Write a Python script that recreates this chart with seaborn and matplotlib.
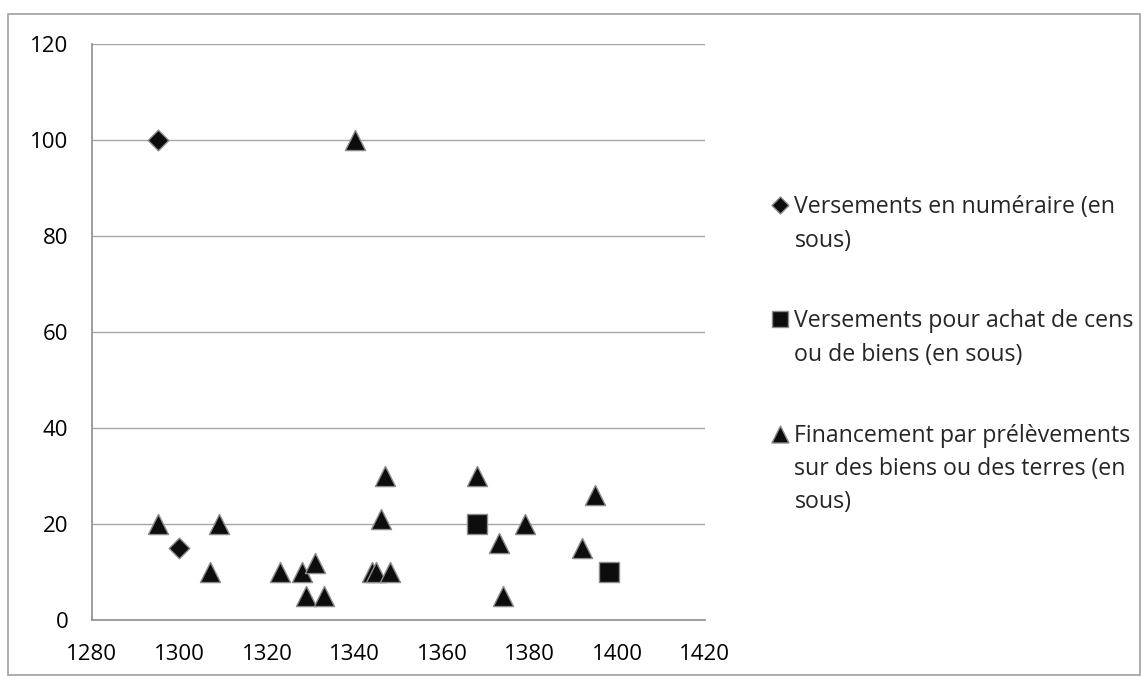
import pandas as pd
import matplotlib.pyplot as plt
import seaborn as sns
from matplotlib.patches import Rectangle

# Données
num_annee = [1295, 1300]
num_valeur = [100, 15]

achat_annee = [1368, 1398]
achat_valeur = [20, 10]

prel_annee = [1295, 1307, 1309, 1323, 1328, 1329, 1331, 1333, 1340, 1344, 1345,
              1346, 1347, 1348, 1368, 1373, 1374, 1379, 1392, 1395]
prel_valeur = [20, 10, 20, 10, 10, 5, 12, 5, 100, 10, 10,
               21, 30, 10, 30, 16, 5, 20, 15, 26]

lab_num = "Versements en numéraire (en\nsous)"
lab_achat = "Versements pour achat de cens\nou de biens (en sous)"
lab_prel = "Financement par prélèvements\nsur des biens ou des terres (en\nsous)"

df = pd.concat([
    pd.DataFrame({'annee': num_annee, 'valeur': num_valeur, 'serie': lab_num}),
    pd.DataFrame({'annee': achat_annee, 'valeur': achat_valeur, 'serie': lab_achat}),
    pd.DataFrame({'annee': prel_annee, 'valeur': prel_valeur, 'serie': lab_prel}),
], ignore_index=True)

sns.set_theme(style="white")
plt.rcParams['font.family'] = ['Open Sans', 'DejaVu Sans']

fig = plt.figure(figsize=(11.48, 6.8), dpi=100)
ax = fig.add_axes([0.080, 0.088, 0.534, 0.847])

# cadre extérieur gris
fig.patches.append(Rectangle((0.007, 0.007), 0.986, 0.973, transform=fig.transFigure,
                             fill=False, edgecolor='#a0a0a0', linewidth=1.2))

marqueurs = {lab_num: 'D', lab_achat: 's', lab_prel: '^'}
tailles = {lab_num: 110, lab_achat: 200, lab_prel: 210}
tailles_leg = {lab_num: 75, lab_achat: 140, lab_prel: 150}

for serie, grp in df.groupby('serie', sort=False):
    sns.scatterplot(data=grp, x='annee', y='valeur', marker=marqueurs[serie],
                    s=tailles[serie], color='#0d0d0d', edgecolor='#8c8c8c',
                    linewidth=1.0, ax=ax, label=serie, zorder=3)

ax.set_xlim(1280, 1420)
ax.set_ylim(0, 120)
ax.set_xticks(range(1280, 1421, 20))
ax.set_yticks(range(0, 121, 20))
ax.set_xlabel('')
ax.set_ylabel('')
ax.yaxis.grid(True, color='#a6a6a6', linewidth=1.0)
ax.xaxis.grid(False)
for s in ['top', 'right']:
    ax.spines[s].set_visible(False)
for s in ['left', 'bottom']:
    ax.spines[s].set_color('#8c8c8c')
    ax.spines[s].set_linewidth(1.2)
ax.tick_params(axis='both', which='both', direction='out', length=7, width=1.0,
               color='#8c8c8c', labelsize=16, labelcolor='#000000')
ax.tick_params(axis='y', pad=10)
ax.tick_params(axis='x', pad=10)

leg = ax.legend(loc='upper left', bbox_to_anchor=(1.0855, 0.754), frameon=False,
                fontsize=16.7, handletextpad=0.0, handlelength=1.2,
                labelspacing=2.45, borderaxespad=0)
for h, serie in zip(leg.legend_handles, [lab_num, lab_achat, lab_prel]):
    h.set_sizes([tailles_leg[serie]])
for t in leg.get_texts():
    t.set_linespacing(1.52)
# marqueur aligné sur la première ligne du libellé
for col in leg._legend_handle_box.get_children():
    for row in col.get_children():
        row.align = 'top'

plt.savefig('out.png', dpi=100)
